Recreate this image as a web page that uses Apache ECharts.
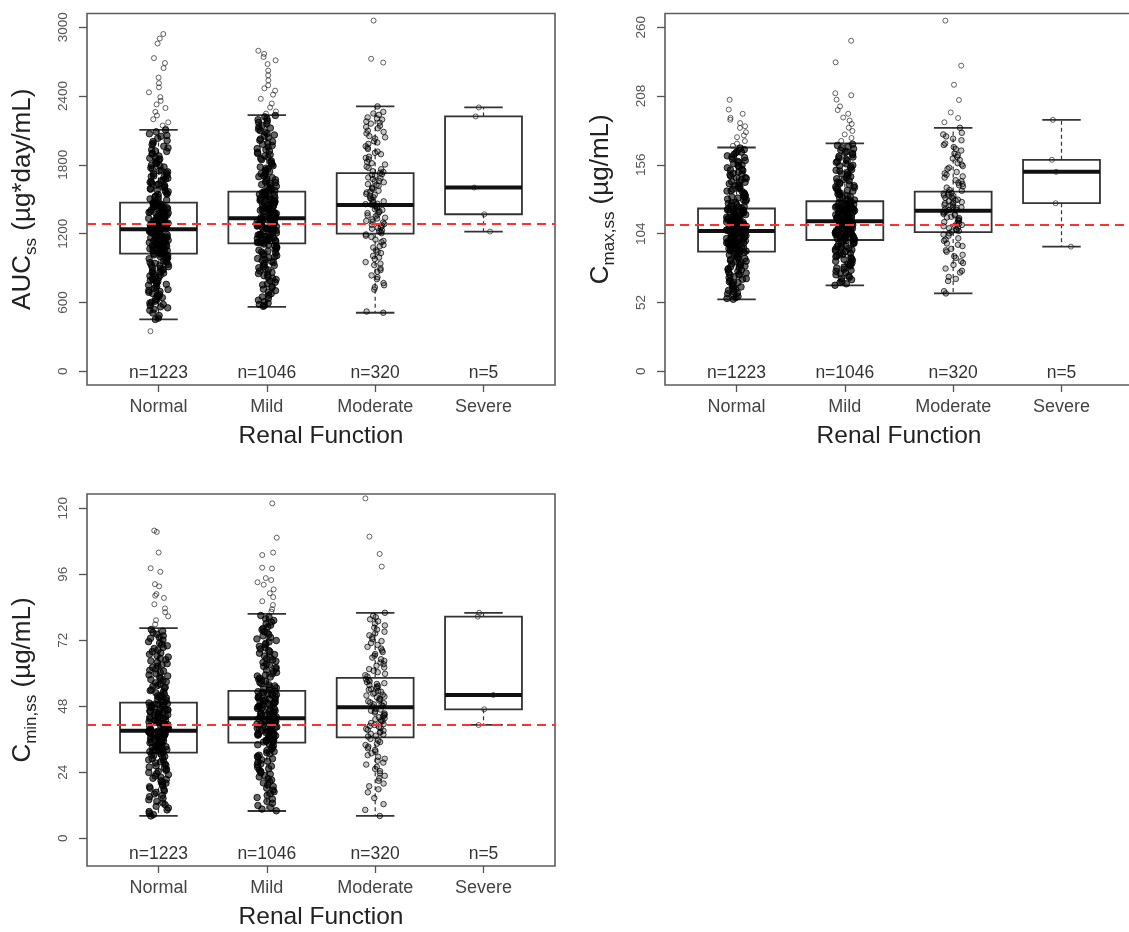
<!DOCTYPE html>
<html>
<head>
<meta charset="utf-8">
<script src="https://cdn.jsdelivr.net/npm/echarts@6/dist/echarts.min.js"></script>
<style>
  html, body { margin: 0; padding: 0; background: #ffffff; }
  #chart { width: 1129px; height: 932px; }
</style>
</head>
<body>
<div id="chart"></div>
<script>
// ---- categories and counts ----
const categories = ['Normal', 'Mild', 'Moderate', 'Severe'];
const nCounts = [1223, 1046, 320, 5];

// ---- tick labels ----
const aucTicks = [0, 600, 1200, 1800, 2400, 3000];
const cmaxTicks = [0, 52, 104, 156, 208, 260];
const cminTicks = [0, 24, 48, 72, 96, 120];

// ---- reference (dashed) levels ----
const aucRef = 1290;
const cmaxRef = 110.8;
const cminRef = 41.2;

// ---- box statistics: [lower whisker, Q1, median, Q3, upper whisker] ----
const aucBoxNormal = [452, 1026, 1238, 1471, 2105];
const aucBoxMild = [562, 1116, 1334, 1567, 2234];
const aucBoxModerate = [510, 1200, 1450, 1727, 2310];
const aucBoxSevere = [1218, 1369, 1602, 2222, 2301];

const cmaxBoxNormal = [54.3, 90.4, 106.0, 123.0, 169.1];
const cmaxBoxMild = [64.9, 99.2, 113.3, 128.5, 172.2];
const cmaxBoxModerate = [58.8, 105.2, 121.4, 135.8, 184.0];
const cmaxBoxSevere = [94.2, 127.0, 150.7, 159.8, 190.0];

const cminBoxNormal = [8.1, 31.1, 39.1, 49.3, 76.4];
const cminBoxMild = [9.9, 34.8, 43.6, 53.6, 81.6];
const cminBoxModerate = [8.1, 36.7, 47.6, 58.3, 82.0];
const cminBoxSevere = [41.2, 46.9, 52.1, 80.6, 82.0];

// ---- individual exposures (AUCss, ug*day/mL) ----
const aucNormal = [2941, 2902, 2858, 2731, 2688, 2644, 2561, 2512, 2476, 2433, 2391, 2358, 2327, 2296, 2262, 2231, 2198, 2171, 2143, 2118,
  2104, 2071, 2049, 2012, 1987, 1962, 1931, 1917, 1893, 1866, 1851, 1829, 1811, 1790, 1774, 1752, 1739, 1721, 1703, 1694, 1676, 1661, 1648, 1632, 1619, 1604, 1593, 1578, 1566, 1553, 1541, 1527, 1516, 1503, 1494, 1481,
  1469, 1458, 1452, 1443, 1431, 1426, 1414, 1407, 1399, 1388, 1381, 1372, 1366, 1354, 1349, 1341, 1333, 1322, 1317, 1309, 1298, 1291, 1284, 1276, 1269, 1261, 1255, 1247, 1242,
  1236, 1229, 1221, 1214, 1206, 1199, 1190, 1184, 1176, 1167, 1161, 1153, 1146, 1138, 1129, 1122, 1114, 1107, 1098, 1091, 1083, 1076, 1068, 1059, 1052, 1044, 1037, 1029,
  1021, 1008, 994, 981, 967, 952, 941, 926, 912, 897, 884, 869, 856, 838, 823, 809, 791, 776, 758, 741, 722, 704, 688, 671, 652, 633, 611, 594, 572, 553, 531, 508, 486, 463, 452, 349];
const aucNormalCore = [2088, 2057, 2031, 2003, 1976, 1948, 1922, 1901, 1877, 1858, 1838, 1817, 1796, 1781, 1763, 1746, 1729, 1712, 1698, 1683, 1668, 1653, 1637, 1624, 1609, 1588, 1571, 1545, 1519, 1489,
  1466, 1462, 1449, 1446, 1437, 1433, 1421, 1417, 1403, 1395, 1386, 1377, 1369, 1361, 1357, 1344, 1336, 1328, 1319, 1313, 1305, 1295, 1287, 1279, 1272, 1264, 1258, 1251, 1245, 1239,
  1233, 1226, 1218, 1211, 1203, 1196, 1187, 1180, 1172, 1164, 1157, 1150, 1142, 1135, 1126, 1118, 1111, 1103, 1095, 1087, 1080, 1072, 1064, 1056, 1048, 1040, 1033, 1027,
  1015, 1001, 988, 974, 960, 947, 933, 919, 905, 891, 877, 862, 847, 831, 816, 800, 784, 767, 750, 732, 713, 696, 679, 661, 642, 622, 602, 583, 562, 541];
const aucMild = [2795, 2768, 2741, 2712, 2679, 2622, 2581, 2537, 2494, 2468, 2447, 2412, 2376, 2335, 2301, 2266, 2247,
  2231, 2204, 2183, 2157, 2131, 2110, 2086, 2061, 2039, 2014, 1991, 1968, 1942, 1921, 1899, 1878, 1856, 1834, 1813, 1792, 1771, 1752, 1733, 1714, 1697, 1679, 1661, 1646, 1628, 1613, 1598, 1583, 1571,
  1562, 1551, 1543, 1532, 1522, 1513, 1503, 1494, 1484, 1473, 1466, 1455, 1446, 1436, 1427, 1418, 1407, 1398, 1389, 1379, 1371, 1362, 1352, 1344, 1337,
  1331, 1322, 1314, 1305, 1296, 1288, 1279, 1270, 1262, 1253, 1244, 1236, 1227, 1218, 1210, 1201, 1192, 1184, 1175, 1166, 1158, 1149, 1141, 1132, 1123, 1118,
  1109, 1094, 1079, 1063, 1048, 1031, 1016, 999, 983, 966, 948, 931, 912, 893, 874, 852, 833, 811, 788, 764, 741, 716, 689, 662, 634, 606, 583, 566];
const aucMildCore = [2219, 2193, 2170, 2144, 2121, 2098, 2073, 2050, 2026, 2002, 1979, 1955, 1932, 1910, 1888, 1867, 1845, 1823, 1802, 1781, 1762, 1742, 1723, 1705, 1688, 1670, 1653, 1637, 1620, 1605, 1590, 1576,
  1565, 1557, 1547, 1537, 1527, 1518, 1508, 1498, 1489, 1479, 1469, 1460, 1450, 1441, 1431, 1422, 1412, 1403, 1393, 1384, 1375, 1366, 1357, 1348, 1340,
  1327, 1318, 1309, 1300, 1292, 1283, 1274, 1266, 1257, 1249, 1240, 1231, 1223, 1214, 1205, 1197, 1188, 1179, 1171, 1162, 1153, 1145, 1136, 1127, 1120,
  1102, 1087, 1071, 1056, 1040, 1024, 1008, 991, 975, 957, 940, 922, 903, 884, 863, 843, 822, 800, 776, 753, 729, 703, 676, 648, 620, 594, 574];
const aucModerate = [3058, 2725, 2692,
  2310, 2262, 2236, 2214, 2195, 2178, 2160, 2141, 2119, 2098, 2074, 2051, 2030, 2006, 1983, 1962, 1938, 1915, 1893, 1871, 1848, 1826, 1803, 1784, 1762, 1744, 1731,
  1719, 1705, 1690, 1676, 1661, 1648, 1632, 1617, 1603, 1589, 1574, 1560, 1546, 1531, 1517, 1503, 1489, 1474, 1461, 1453,
  1446, 1433, 1420, 1406, 1393, 1379, 1366, 1352, 1339, 1325, 1311, 1297, 1284, 1270, 1257, 1243, 1229, 1216, 1204,
  1193, 1171, 1148, 1126, 1101, 1079, 1054, 1031, 1006, 979, 952, 926, 897, 868, 836, 803, 769, 733, 712, 521, 510];
const aucModerateCore = [2248, 2205, 2168, 2130, 2087, 2040, 1995, 1950, 1905, 1860, 1815, 1773, 1738, 1712, 1683, 1655, 1625, 1596, 1567, 1539,
  1510, 1482, 1457, 1440, 1413, 1386, 1359, 1332, 1304, 1277, 1250, 1222, 1182, 1137, 1090, 1042, 992, 938, 882, 820, 750];
const aucSevere = [1218, 1369, 1602, 2222, 2301];

// ---- individual exposures (Cmax,ss, ug/mL) ----
const cmaxNormal = [205.2, 197.8, 194.6, 191.5, 190.1, 187.6, 185.2, 183.9, 180.7, 178.3, 176.9, 174.0, 172.1, 170.4,
  168.7, 166.2, 165.1, 162.8, 161.5, 159.3, 158.0, 155.8, 154.9, 152.6, 151.7, 149.5, 148.6, 146.4, 145.7, 143.3, 142.8, 140.6, 139.4, 138.1, 136.5, 135.9, 134.0, 132.7, 131.8, 130.1, 129.4, 127.6, 126.9, 125.2, 124.6, 123.4,
  122.8, 121.9, 121.5, 120.6, 120.1, 119.2, 118.7, 118.0, 117.3, 116.8, 116.0, 115.4, 114.9, 114.1, 113.6, 112.8, 112.2, 111.7, 110.9, 110.4, 109.6, 109.0, 108.5, 107.7, 107.1, 106.6, 106.1,
  105.7, 105.1, 104.3, 103.9, 103.0, 102.5, 101.8, 101.2, 100.5, 99.9, 99.1, 98.6, 97.9, 97.2, 96.8, 96.0, 95.3, 94.9, 94.1, 93.5, 92.8, 92.2, 91.7, 91.0, 90.6,
  89.8, 88.4, 87.6, 86.1, 85.3, 83.7, 82.9, 81.2, 80.3, 78.8, 77.5, 76.6, 74.9, 73.4, 72.6, 70.7, 69.5, 67.6, 66.4, 64.3, 62.8, 61.1, 59.2, 57.6, 55.7, 54.4];
const cmaxNormalCore = [167.5, 165.6, 163.9, 162.0, 160.4, 158.6, 156.9, 155.3, 153.8, 152.1, 150.6, 149.1, 147.6, 146.1, 144.6, 143.2, 141.8, 140.3, 138.9, 137.6, 136.2, 134.8, 133.5, 132.2, 130.9, 129.7, 128.4, 127.1, 125.9, 124.0,
  122.5, 121.8, 121.2, 120.4, 119.8, 119.0, 118.4, 117.7, 117.0, 116.4, 115.7, 115.1, 114.4, 113.8, 113.2, 112.5, 111.9, 111.3, 110.6, 110.0, 109.3, 108.7, 108.1, 107.4, 106.9, 106.4,
  105.4, 104.8, 104.1, 103.5, 102.8, 102.2, 101.5, 100.9, 100.3, 99.6, 99.0, 98.3, 97.7, 97.0, 96.4, 95.7, 95.1, 94.5, 93.8, 93.2, 92.5, 91.9, 91.3, 90.8,
  89.2, 88.0, 86.8, 85.6, 84.4, 83.2, 82.0, 80.7, 79.5, 78.2, 76.9, 75.6, 74.2, 72.9, 71.4, 70.0, 68.5, 67.0, 65.4, 63.7, 62.0, 60.3, 58.5, 56.6, 55.0];
const cmaxMild = [249.8, 233.5, 210.1, 208.6, 205.3, 200.2, 197.4, 194.6, 191.8, 189.5, 186.9, 184.1, 181.6, 179.0, 176.3, 174.1,
  171.6, 169.8, 168.1, 166.0, 164.7, 162.5, 161.2, 159.1, 157.9, 155.7, 154.6, 152.4, 151.3, 149.2, 148.1, 146.0, 145.0, 143.1, 141.9, 140.2, 138.8, 137.4, 136.1, 134.6, 133.4, 132.0, 130.9, 129.4,
  128.0, 127.3, 126.8, 126.1, 125.5, 124.9, 124.2, 123.6, 123.0, 122.4, 121.7, 121.1, 120.5, 119.9, 119.2, 118.6, 118.0, 117.3, 116.7, 116.1, 115.4, 114.8, 114.2, 113.7,
  112.9, 112.3, 111.7, 111.0, 110.5, 109.9, 109.2, 108.6, 108.1, 107.4, 106.8, 106.3, 105.6, 105.0, 104.5, 103.8, 103.3, 102.6, 102.1, 101.4, 100.8, 100.2, 99.6,
  98.7, 97.5, 96.4, 95.2, 94.1, 92.8, 91.7, 90.4, 89.2, 87.9, 86.6, 85.2, 83.9, 82.4, 81.1, 79.5, 78.0, 76.3, 74.7, 72.9, 71.0, 69.2, 67.1, 65.0];
const cmaxMildCore = [170.7, 168.9, 167.1, 165.3, 163.6, 161.9, 160.2, 158.5, 156.8, 155.2, 153.5, 151.9, 150.3, 148.7, 147.1, 145.5, 144.0, 142.5, 141.0, 139.5, 138.1, 136.7, 135.3, 133.9, 132.6, 131.3, 130.0, 128.8,
  127.6, 127.0, 126.4, 125.8, 125.2, 124.6, 123.9, 123.3, 122.7, 122.0, 121.4, 120.8, 120.2, 119.5, 118.9, 118.3, 117.6, 117.0, 116.4, 115.8, 115.1, 114.5, 113.9,
  113.0, 112.6, 112.0, 111.4, 110.8, 110.2, 109.6, 109.0, 108.4, 107.8, 107.1, 106.5, 105.9, 105.3, 104.7, 104.1, 103.5, 102.9, 102.3, 101.7, 101.1, 100.5, 99.9, 99.4,
  98.1, 96.9, 95.8, 94.6, 93.4, 92.2, 91.0, 89.8, 88.5, 87.2, 85.9, 84.5, 83.1, 81.7, 80.3, 78.7, 77.1, 75.5, 73.8, 72.0, 70.1, 68.2, 66.1];
const cmaxModerate = [265.0, 231.0, 216.5, 205.0, 195.6, 191.4, 188.2,
  184.0, 180.2, 177.5, 174.6, 172.1, 169.4, 166.8, 164.5, 162.0, 159.7, 157.3, 155.1, 152.9, 150.6, 148.5, 146.4, 144.4, 142.5, 140.6, 138.8, 137.0,
  135.2, 134.3, 133.4, 132.5, 131.5, 130.6, 129.7, 128.8, 127.9, 127.0, 126.0, 125.2, 124.3, 123.5, 122.6, 121.8,
  120.9, 119.9, 118.9, 117.9, 116.8, 115.8, 114.8, 113.7, 112.7, 111.7, 110.6, 109.6, 108.6, 107.5, 106.5, 105.6,
  104.3, 102.4, 100.5, 98.6, 96.6, 94.6, 92.5, 90.3, 88.0, 85.6, 83.1, 80.4, 77.6, 74.6, 71.3, 68.2, 60.5, 58.8];
const cmaxModerateCore = [179.0, 175.8, 171.0, 167.9, 163.3, 160.8, 156.2, 153.9, 149.5, 147.3, 143.6, 141.5, 139.7, 136.4, 134.8, 132.9, 131.0, 129.2, 127.4,
  125.6, 123.8, 122.1, 120.4, 118.4, 116.3, 114.3, 112.2, 110.1, 108.1, 106.0, 103.3, 99.5, 95.6, 91.4, 86.9, 81.8, 75.9, 69.8];
const cmaxSevere = [94.2, 127.0, 150.7, 159.8, 190.0];

// ---- individual exposures (Cmin,ss, ug/mL) ----
const cminNormal = [111.9, 111.4, 103.9, 98.2, 96.9, 92.4, 91.6, 88.8, 88.2, 87.4, 85.1, 83.6, 82.2, 80.7, 79.3, 77.8,
  75.9, 74.8, 73.6, 72.7, 71.5, 70.6, 69.4, 68.5, 67.4, 66.4, 65.4, 64.5, 63.5, 62.6, 61.6, 60.8, 59.8, 59.0, 58.1, 57.3, 56.5, 55.6, 54.9, 54.0, 53.3, 52.5, 51.7, 51.0, 50.2, 49.6,
  49.0, 48.7, 48.1, 47.9, 47.3, 46.8, 46.6, 46.0, 45.7, 45.2, 44.9, 44.3, 44.0, 43.6, 43.1, 42.8, 42.3, 41.9, 41.5, 41.0, 40.7, 40.2, 39.9, 39.4,
  38.8, 38.4, 38.1, 37.6, 37.4, 36.9, 36.7, 36.2, 35.9, 35.5, 35.2, 34.7, 34.5, 34.0, 33.7, 33.3, 33.0, 32.5, 32.3, 31.8, 31.6, 31.2,
  30.7, 30.0, 29.3, 28.5, 27.8, 27.0, 26.3, 25.5, 24.7, 23.9, 23.1, 22.2, 21.4, 20.5, 19.6, 18.7, 17.7, 16.7, 15.6, 14.5, 13.4, 12.2, 11.0, 9.7, 8.6, 8.1];
const cminNormalCore = [75.3, 74.2, 73.1, 72.1, 71.0, 70.0, 69.0, 67.9, 66.9, 65.9, 64.9, 64.0, 63.0, 62.1, 61.1, 60.3, 59.4, 58.5, 57.7, 56.9, 56.1, 55.3, 54.5, 53.7, 52.9, 52.1, 51.3, 50.6, 49.9,
  49.2, 48.8, 48.4, 48.0, 47.6, 47.1, 46.7, 46.3, 45.9, 45.5, 45.1, 44.7, 44.2, 43.8, 43.4, 43.0, 42.5, 42.1, 41.7, 41.3, 40.8, 40.4, 40.0, 39.6, 39.2,
  38.9, 38.6, 38.2, 37.9, 37.5, 37.2, 36.8, 36.5, 36.1, 35.8, 35.4, 35.1, 34.7, 34.4, 34.0, 33.7, 33.3, 33.0, 32.6, 32.2, 31.9, 31.5,
  30.4, 29.7, 28.9, 28.2, 27.4, 26.6, 25.9, 25.1, 24.3, 23.5, 22.6, 21.8, 20.9, 20.0, 19.1, 18.2, 17.2, 16.1, 15.1, 14.0, 12.8, 11.6, 10.3, 9.1];
const cminMild = [121.8, 109.3, 103.9, 103.0, 98.4, 98.1, 94.6, 93.9, 93.1, 92.2, 90.5, 89.1, 87.7, 86.2, 84.8, 83.3, 82.4,
  81.0, 79.8, 78.6, 77.5, 76.3, 75.2, 74.1, 73.0, 71.9, 70.9, 69.8, 68.8, 67.8, 66.8, 65.8, 64.9, 63.9, 63.0, 62.1, 61.2, 60.3, 59.4, 58.6, 57.8, 57.0, 56.2, 55.4, 54.7, 53.9,
  53.3, 52.9, 52.4, 52.0, 51.5, 51.1, 50.6, 50.2, 49.7, 49.3, 48.8, 48.4, 47.9, 47.5, 47.0, 46.6, 46.1, 45.7, 45.2, 44.8, 44.3, 43.9,
  43.3, 42.9, 42.5, 42.1, 41.7, 41.3, 40.9, 40.5, 40.1, 39.7, 39.3, 38.9, 38.5, 38.1, 37.7, 37.3, 36.9, 36.5, 36.1, 35.7, 35.3, 35.0,
  34.4, 33.6, 32.8, 31.9, 31.1, 30.2, 29.4, 28.5, 27.6, 26.7, 25.8, 24.8, 23.8, 22.8, 21.7, 20.6, 19.4, 18.2, 16.9, 15.6, 14.2, 12.7, 11.2, 10.0];
const cminMildCore = [80.4, 79.2, 78.0, 76.9, 75.8, 74.7, 73.6, 72.5, 71.4, 70.4, 69.3, 68.3, 67.3, 66.3, 65.3, 64.4, 63.4, 62.5, 61.6, 60.7, 59.8, 59.0, 58.2, 57.4, 56.6, 55.8, 55.0, 54.3,
  53.5, 53.1, 52.6, 52.2, 51.7, 51.3, 50.8, 50.4, 49.9, 49.5, 49.0, 48.6, 48.1, 47.7, 47.2, 46.8, 46.3, 45.9, 45.4, 45.0, 44.5, 44.1, 43.7,
  43.5, 43.1, 42.7, 42.3, 41.9, 41.5, 41.1, 40.7, 40.3, 39.9, 39.5, 39.1, 38.7, 38.3, 37.9, 37.5, 37.1, 36.7, 36.3, 35.9, 35.5, 35.1,
  34.0, 33.2, 32.4, 31.5, 30.7, 29.8, 28.9, 28.0, 27.1, 26.2, 25.3, 24.3, 23.3, 22.3, 21.2, 20.1, 18.8, 17.5, 16.2, 14.8, 13.4, 11.9, 10.6];
const cminModerate = [123.6, 109.7, 103.4, 98.8,
  82.0, 80.4, 78.9, 77.4, 75.9, 74.5, 73.1, 71.7, 70.3, 69.0, 67.7, 66.4, 65.1, 63.9, 62.7, 61.5, 60.4, 59.3,
  57.8, 57.1, 56.4, 55.7, 55.0, 54.3, 53.6, 52.9, 52.2, 51.5, 50.8, 50.1, 49.4, 48.7, 48.1,
  47.1, 46.4, 45.7, 45.0, 44.3, 43.6, 42.9, 42.2, 41.5, 40.8, 40.1, 39.4, 38.7, 38.0, 37.3,
  36.1, 35.0, 33.9, 32.7, 31.5, 30.2, 28.9, 27.5, 26.0, 24.4, 22.7, 20.9, 18.9, 16.7, 14.6, 12.4, 10.3, 8.1];
const cminModerateCore = [80.9, 79.6, 78.1, 76.6, 75.1, 73.8, 72.4, 71.0, 69.6, 68.3, 67.0, 65.7, 64.5, 63.3, 62.1, 60.9, 59.8, 58.8,
  57.5, 56.8, 56.1, 55.4, 54.7, 54.0, 53.3, 52.6, 51.9, 51.2, 50.5, 49.8, 49.1, 48.4, 47.9, 46.8, 46.1, 45.4, 44.7, 44.0, 43.3, 42.6, 41.9, 41.2,
  40.5, 39.8, 39.1, 38.4, 37.7, 37.0, 35.5, 34.4, 33.3, 32.1, 30.9, 29.6, 28.2, 26.8, 25.2, 23.6, 21.8, 19.9, 17.8];
const cminSevere = [41.2, 46.9, 52.1, 80.6, 82.0];

// ---- drawing ----
const FONT = 'Liberation Sans, Arial, Helvetica, sans-serif';
const X_MIN = 0.34, X_MAX = 4.66;   // R-style 4% padding around 0.5..4.5
const BOX_W = 0.71;
const JITTER = 0.092;

const panels = [
  { grid: { left: 87, top: 13.5, width: 468, height: 371.5 }, yMin: -120, yMax: 3120, ticks: aucTicks,
    title: '{m|AUC}{s|ss}{m| (µg*day/mL)}', ref: aucRef,
    boxes: [aucBoxNormal, aucBoxMild, aucBoxModerate, aucBoxSevere],
    points: [aucNormal.concat(aucNormalCore), aucMild.concat(aucMildCore), aucModerate.concat(aucModerateCore), aucSevere] },
  { grid: { left: 665, top: 13.5, width: 468, height: 371.5 }, yMin: -10.4, yMax: 270.4, ticks: cmaxTicks,
    title: '{m|C}{s|max,ss}{m| (µg/mL)}', ref: cmaxRef,
    boxes: [cmaxBoxNormal, cmaxBoxMild, cmaxBoxModerate, cmaxBoxSevere],
    points: [cmaxNormal.concat(cmaxNormalCore), cmaxMild.concat(cmaxMildCore), cmaxModerate.concat(cmaxModerateCore), cmaxSevere] },
  { grid: { left: 87, top: 494, width: 468, height: 372 }, yMin: -10.1, yMax: 125.2, ticks: cminTicks,
    title: '{m|C}{s|min,ss}{m| (µg/mL)}', ref: cminRef,
    boxes: [cminBoxNormal, cminBoxMild, cminBoxModerate, cminBoxSevere],
    points: [cminNormal.concat(cminNormalCore), cminMild.concat(cminMildCore), cminModerate.concat(cminModerateCore), cminSevere] }
];

// deterministic hash-based horizontal jitter (same layout on every load)
function spread(group, idx) {
  const s = Math.sin((idx + 1) * 12.9898 + (group + 1) * 78.233) * 43758.5453;
  return ((s - Math.floor(s)) - 0.5) * 2 * JITTER;
}

function renderBox(params, api) {
  const x = api.value(0);
  const lo = api.coord([x, api.value(1)]);
  const q1 = api.coord([x, api.value(2)]);
  const md = api.coord([x, api.value(3)]);
  const q3 = api.coord([x, api.value(4)]);
  const hi = api.coord([x, api.value(5)]);
  const w = api.size([BOX_W, 0])[0];
  const cx = lo[0], half = w / 2, cap = w / 4;
  const edge = '#333333';
  return {
    type: 'group',
    children: [
      { type: 'line', shape: { x1: cx, y1: q3[1], x2: cx, y2: hi[1] }, style: { stroke: edge, lineWidth: 1.2, lineDash: [4, 3] } },
      { type: 'line', shape: { x1: cx, y1: q1[1], x2: cx, y2: lo[1] }, style: { stroke: edge, lineWidth: 1.2, lineDash: [4, 3] } },
      { type: 'line', shape: { x1: cx - cap, y1: hi[1], x2: cx + cap, y2: hi[1] }, style: { stroke: edge, lineWidth: 1.8 } },
      { type: 'line', shape: { x1: cx - cap, y1: lo[1], x2: cx + cap, y2: lo[1] }, style: { stroke: edge, lineWidth: 1.8 } },
      { type: 'rect', shape: { x: cx - half, y: q3[1], width: w, height: q1[1] - q3[1] }, style: { fill: 'none', stroke: edge, lineWidth: 1.8 } },
      { type: 'line', shape: { x1: cx - half, y1: md[1], x2: cx + half, y2: md[1] }, style: { stroke: '#111111', lineWidth: 4 } }
    ]
  };
}

// large groups form a dense cloud inside the whiskers; smaller groups and points beyond the whiskers stay as rings
const denseStyle = { color: 'rgba(0,0,0,0.75)', borderColor: '#000', borderWidth: 1 };
const lightStyle = { color: 'rgba(0,0,0,0.28)', borderColor: 'rgba(0,0,0,0.9)', borderWidth: 1 };
const ringStyle = { color: 'rgba(255,255,255,0)', borderColor: 'rgba(30,30,30,0.85)', borderWidth: 1 };

const grids = [], xAxes = [], yAxes = [], series = [];
panels.forEach((p, i) => {
  grids.push(Object.assign({ show: true, borderColor: '#5c5c5c', borderWidth: 1.6, backgroundColor: 'transparent',
    containLabel: false, outerBoundsMode: 'none' }, p.grid));

  // category axis (ticks + labels + title)
  xAxes.push({
    gridIndex: i, type: 'value', min: X_MIN, max: X_MAX, position: 'bottom',
    axisLine: { show: false, onZero: false },
    splitLine: { show: false },
    axisTick: { show: true, customValues: [1, 2, 3, 4], length: 7, lineStyle: { color: '#555', width: 1.3 } },
    axisLabel: { customValues: [1, 2, 3, 4], formatter: v => categories[Math.round(v) - 1],
      fontSize: 18, color: '#444', margin: 13, fontFamily: FONT },
    name: 'Renal Function', nameLocation: 'middle', nameGap: 39,
    nameTextStyle: { fontSize: 24.5, color: '#222', fontFamily: FONT }
  });
  // group size labels inside the plot frame
  xAxes.push({
    gridIndex: i, type: 'value', min: X_MIN, max: X_MAX, position: 'bottom',
    axisLine: { show: false, onZero: false },
    splitLine: { show: false },
    axisTick: { show: false },
    axisLabel: { inside: true, customValues: [1, 2, 3, 4], formatter: v => 'n=' + nCounts[Math.round(v) - 1],
      fontSize: 17.5, color: '#333', margin: 3, fontFamily: FONT }
  });

  yAxes.push({
    gridIndex: i, type: 'value', min: p.yMin, max: p.yMax,
    axisLine: { show: false },
    splitLine: { show: false },
    axisTick: { show: true, customValues: p.ticks, length: 8, lineStyle: { color: '#555', width: 1.3 } },
    axisLabel: { customValues: p.ticks, formatter: v => String(v), rotate: 90, fontSize: 13.5, color: '#555', margin: 17, fontFamily: FONT },
    name: p.title, nameLocation: 'middle', nameRotate: 90, nameGap: 47,
    nameTextStyle: {
      fontFamily: FONT, color: '#222',
      rich: {
        m: { fontSize: 26, lineHeight: 34, color: '#222', fontFamily: FONT },
        s: { fontSize: 17, lineHeight: 34, verticalAlign: 'bottom', color: '#222', fontFamily: FONT }
      }
    }
  });

  const boxData = p.boxes.map((b, k) => [k + 1].concat(b));
  series.push({
    type: 'custom', xAxisIndex: 2 * i, yAxisIndex: i, z: 2, silent: true,
    renderItem: renderBox, data: boxData, encode: { x: 0, y: [1, 2, 3, 4, 5] }
  });

  const pts = [];
  p.points.forEach((vals, k) => {
    const box = p.boxes[k];
    const dense = nCounts[k] > 1000;
    const mid = nCounts[k] > 100;
    vals.forEach((v, j) => {
      const inside = v >= box[0] && v <= box[4];
      let style = ringStyle, size = 5;
      if (inside && dense) { style = denseStyle; size = 6.5; }
      else if (inside && mid) { style = lightStyle; size = 5.5; }
      pts.push({ value: [k + 1 + spread(k + 4 * i, j), v], symbolSize: size, itemStyle: style });
    });
  });
  series.push({
    type: 'scatter', xAxisIndex: 2 * i, yAxisIndex: i, z: 3, silent: true,
    symbol: 'circle', data: pts
  });

  series.push({
    type: 'line', xAxisIndex: 2 * i, yAxisIndex: i, z: 5, data: [], silent: true,
    markLine: {
      silent: true, symbol: ['none', 'none'], label: { show: false }, animation: false,
      lineStyle: { color: '#ff3030', width: 2, type: [9, 6] },
      data: [{ yAxis: p.ref }]
    }
  });
});

const chart = echarts.init(document.getElementById('chart'), null, { renderer: 'canvas' });
chart.setOption({
  animation: false,
  backgroundColor: '#ffffff',
  textStyle: { fontFamily: FONT },
  grid: grids,
  xAxis: xAxes,
  yAxis: yAxes,
  series: series
});
</script>
</body>
</html>
